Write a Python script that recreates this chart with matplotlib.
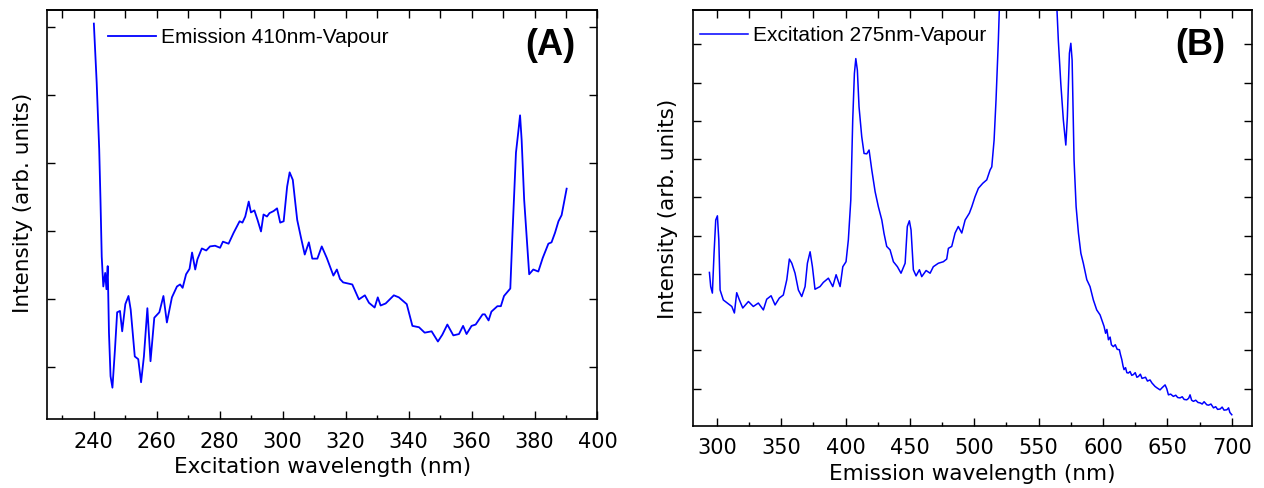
import numpy as np
import matplotlib
matplotlib.use('Agg')
import matplotlib.pyplot as plt
from matplotlib.ticker import MultipleLocator, NullFormatter

# --- (A) excitation spectrum, emission monitored at 410 nm ---
exc_wl = [240.0, 240.9, 241.7, 242.1, 242.5, 243.0, 243.6, 244.0, 244.4, 244.8,
          245.3, 245.9, 246.7, 247.4, 248.3, 249.0, 250.0, 251.0, 251.7, 253.0,
          254.1, 255.0, 255.9, 257.0, 258.0, 259.2, 260.8, 262.1, 263.2, 264.8,
          266.4, 267.4, 268.2, 269.3, 270.4, 271.2, 272.2, 272.9, 274.3, 275.7,
          276.9, 278.5, 280.1, 281.0, 282.8, 284.4, 286.3, 287.2, 288.1, 289.2,
          289.9, 291.0, 292.0, 293.1, 293.9, 295.0, 295.8, 297.1, 298.2, 299.2,
          300.3, 301.4, 302.2, 303.2, 304.0, 304.6, 305.8, 307.0, 308.3, 309.4,
          311.0, 312.4, 314.0, 316.1, 317.2, 318.2, 319.2, 322.1, 324.2, 326.1,
          327.4, 329.2, 330.2, 331.1, 332.7, 335.3, 336.9, 339.4, 341.2, 343.3,
          345.1, 347.3, 349.3, 350.7, 352.3, 354.2, 356.0, 357.3, 358.4, 360.0,
          361.3, 363.5, 364.2, 365.4, 366.3, 368.2, 369.3, 370.3, 372.3, 373.0,
          374.1, 374.8, 375.4, 375.9, 376.7, 378.3, 379.6, 381.2, 382.6, 384.4,
          385.4, 386.5, 387.6, 388.6, 390.2]
exc_int = [6.05, 5.18, 4.20, 3.46, 2.62, 2.18, 2.38, 2.14, 2.48, 1.50,
           0.86, 0.69, 1.25, 1.80, 1.82, 1.52, 1.92, 2.04, 1.84, 1.15,
           1.11, 0.77, 1.15, 1.86, 1.08, 1.72, 1.80, 2.04, 1.65, 2.02,
           2.18, 2.21, 2.16, 2.36, 2.44, 2.68, 2.43, 2.58, 2.74, 2.71,
           2.77, 2.78, 2.75, 2.84, 2.81, 2.97, 3.14, 3.12, 3.21, 3.43,
           3.27, 3.30, 3.16, 2.99, 3.24, 3.21, 3.26, 3.29, 3.33, 3.12,
           3.14, 3.65, 3.86, 3.75, 3.41, 3.16, 2.90, 2.65, 2.83, 2.59,
           2.59, 2.77, 2.60, 2.34, 2.43, 2.29, 2.24, 2.21, 1.99, 2.05,
           1.94, 1.87, 2.02, 1.90, 1.93, 2.05, 2.02, 1.92, 1.60, 1.58,
           1.50, 1.52, 1.37, 1.47, 1.62, 1.46, 1.48, 1.60, 1.48, 1.60,
           1.62, 1.77, 1.77, 1.68, 1.81, 1.89, 1.89, 2.04, 2.15, 2.97,
           4.15, 4.44, 4.70, 4.34, 3.46, 2.36, 2.43, 2.40, 2.60, 2.81,
           2.83, 2.97, 3.14, 3.23, 3.62]

# --- (B) emission spectrum, excited at 275 nm ---
emi_wl = [294.3, 295.3, 296.6, 297.9, 299.2, 300.5, 301.6, 302.6, 305.1, 309.0,
          311.7, 313.7, 315.5, 317.6, 320.2, 324.6, 328.4, 332.3, 336.2, 338.8,
          342.2, 345.3, 348.6, 351.7, 354.4, 356.4, 358.3, 360.8, 363.4, 366.0,
          368.6, 370.4, 372.5, 374.3, 376.3, 380.2, 382.8, 386.7, 390.1, 392.7,
          395.8, 397.9, 400.4, 402.2, 404.1, 405.6, 406.9, 408.0, 409.2, 410.5,
          412.6, 414.4, 416.5, 418.3, 420.4, 423.0, 425.5, 428.2, 429.9, 432.0,
          434.6, 437.2, 440.3, 443.1, 446.3, 448.0, 449.6, 450.9, 452.7, 454.8,
          457.4, 459.2, 462.6, 465.7, 468.2, 472.1, 476.0, 478.6, 479.9, 482.5,
          485.1, 487.6, 490.3, 492.9, 496.2, 498.1, 500.6, 503.2, 506.6, 509.7,
          512.3, 513.6, 515.4, 516.9, 518.7, 520.0, 530.0, 545.0, 558.0, 564.1,
          565.3, 567.2, 569.2, 571.1, 572.3, 573.9, 575.0, 576.0, 577.5, 579.1,
          580.9, 582.8, 584.7, 587.4, 589.9, 592.5, 595.1, 597.7, 600.8, 602.0,
          603.0, 604.2, 605.5, 606.5, 608.0, 609.5, 611.0, 612.7, 613.5, 614.6,
          615.5, 616.3, 617.5, 618.5, 619.7, 621.0, 622.3, 623.6, 625.0, 626.3,
          627.5, 629.0, 630.3, 631.3, 633.0, 634.5, 636.5, 638.0, 639.3, 640.4,
          642.0, 644.3, 646.0, 648.2, 649.5, 650.8, 652.5, 654.6, 656.5, 658.0,
          659.8, 661.5, 663.0, 665.0, 666.5, 667.6, 668.8, 670.2, 672.0, 673.8,
          675.4, 677.0, 678.5, 680.6, 682.0, 683.8, 685.8, 687.5, 689.0, 691.0,
          692.5, 694.0, 696.2, 697.5, 698.5, 700.0]
emi_int = [4.04, 3.67, 3.50, 4.54, 5.41, 5.52, 4.89, 3.58, 3.32, 3.22,
           3.15, 2.98, 3.51, 3.32, 3.11, 3.28, 3.15, 3.24, 3.06, 3.34,
           3.43, 3.19, 3.37, 3.45, 3.85, 4.39, 4.28, 4.02, 3.58, 3.41,
           3.67, 4.28, 4.58, 4.19, 3.60, 3.67, 3.78, 3.89, 3.67, 3.98,
           3.67, 4.19, 4.32, 4.89, 5.93, 8.02, 9.24, 9.63, 9.33, 8.37,
           7.59, 7.15, 7.14, 7.24, 6.72, 6.15, 5.76, 5.41, 5.06, 4.72,
           4.63, 4.32, 4.19, 4.02, 4.28, 5.24, 5.39, 5.15, 4.11, 3.95,
           4.11, 3.93, 4.09, 4.02, 4.19, 4.28, 4.32, 4.39, 4.67, 4.72,
           5.07, 5.24, 5.07, 5.41, 5.59, 5.76, 6.02, 6.24, 6.37, 6.46,
           6.72, 6.80, 7.50, 8.55, 10.10, 11.5, 15.0, 17.0, 14.0, 11.0,
           10.10, 8.98, 8.02, 7.37, 8.11, 9.77, 10.03, 9.59, 6.98, 5.76,
           5.07, 4.54, 4.28, 3.85, 3.67, 3.32, 3.06, 2.93, 2.63, 2.45,
           2.55, 2.28, 2.35, 2.15, 2.10, 2.15, 2.03, 2.02, 1.90, 1.76,
           1.60, 1.50, 1.55, 1.42, 1.41, 1.45, 1.35, 1.37, 1.42, 1.30,
           1.32, 1.38, 1.27, 1.28, 1.30, 1.20, 1.23, 1.15, 1.10, 1.06,
           1.02, 0.97, 1.03, 1.10, 1.00, 0.84, 0.86, 0.80, 0.83, 0.77,
           0.76, 0.79, 0.72, 0.71, 0.75, 0.84, 0.70, 0.67, 0.70, 0.64,
           0.63, 0.60, 0.66, 0.58, 0.57, 0.60, 0.50, 0.53, 0.46, 0.47,
           0.52, 0.44, 0.45, 0.50, 0.38, 0.32]

plt.rcParams['font.family'] = 'DejaVu Sans'
blue = '#0000ff'

def style(ax, xmaj, xmin, xlabel, ylab_x, ylab_y):
    ax.xaxis.set_major_locator(MultipleLocator(xmaj))
    ax.xaxis.set_minor_locator(MultipleLocator(xmin))
    ax.yaxis.set_major_locator(MultipleLocator(1))
    ax.yaxis.set_major_formatter(NullFormatter())
    ax.tick_params(which='both', direction='in', width=1, top=False,
                   left=True, right=True)
    ax.tick_params(which='major', length=6)
    ax.tick_params(which='minor', length=3)
    ax.tick_params(axis='x', labelsize=15, pad=9)
    # top axis carries every tick at the same length
    top = ax.secondary_xaxis('top')
    top.xaxis.set_major_locator(MultipleLocator(xmin))
    top.tick_params(direction='in', length=6, width=1, labeltop=False)
    top.spines['top'].set_linewidth(1.2)
    for s in ax.spines.values():
        s.set_linewidth(1.2)
    ax.set_xlabel(xlabel, fontsize=15.5, labelpad=4)
    ax.set_ylabel('Intensity (arb. units)', fontsize=15.5)
    ax.yaxis.set_label_coords(ylab_x, ylab_y)

fig = plt.figure(figsize=(12.64, 4.88), dpi=100)
axA = fig.add_axes([0.0369, 0.1408, 0.4358, 0.8387])
axB = fig.add_axes([0.5479, 0.1277, 0.4424, 0.8518])

axA.plot(exc_wl, exc_int, color=blue, lw=1.3, label='Emission 410nm-Vapour')
axA.set_xlim(225, 400)
axA.set_ylim(0.225, 6.25)
style(axA, 20, 10, 'Excitation wavelength (nm)', -0.025, 0.528)
axA.legend(loc='center left', bbox_to_anchor=(0.1118, 0.933), frameon=False,
           prop={'family': 'Liberation Sans', 'size': 15}, handlelength=2.3,
           handletextpad=0.25, borderpad=0, borderaxespad=0)
axA.text(0.9147, 0.913, '(A)', transform=axA.transAxes, ha='center', va='center',
         fontsize=26, fontweight='bold', family='Liberation Sans')

axB.plot(emi_wl, emi_int, color=blue, lw=1.1, label='Excitation 275nm-Vapour')
axB.set_xlim(281.2, 715.5)
axB.set_ylim(0.034, 10.9)
style(axB, 50, 25, 'Emission wavelength (nm)', -0.026, 0.521)
axB.legend(loc='center left', bbox_to_anchor=(0.0134, 0.938), frameon=False,
           prop={'family': 'Liberation Sans', 'size': 15}, handlelength=2.3,
           handletextpad=0.25, borderpad=0, borderaxespad=0)
axB.text(0.9084, 0.9146, '(B)', transform=axB.transAxes, ha='center', va='center',
         fontsize=26, fontweight='bold', family='Liberation Sans')

fig.savefig('out.png', dpi=100)
